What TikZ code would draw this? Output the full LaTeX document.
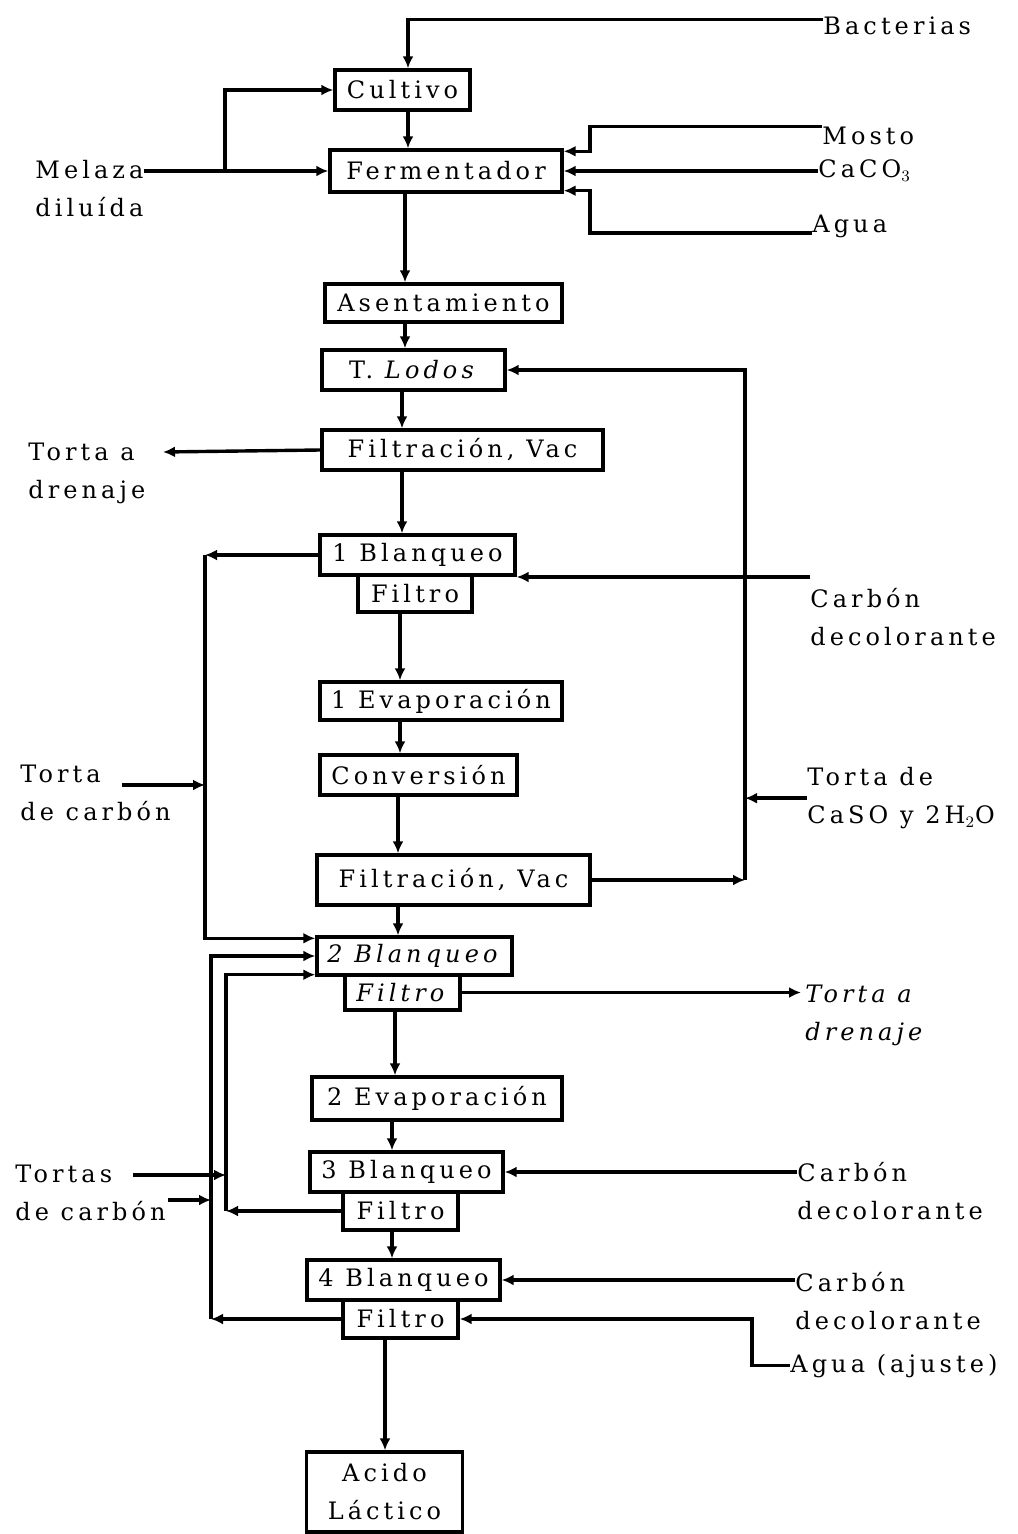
\documentclass[tikz,border=0pt]{standalone}
\usepackage{fontspec}
\setmainfont{DejaVu Serif}[LetterSpace=17]
\usetikzlibrary{arrows.meta}

\tikzset{
  proc/.style={draw, line width=1.7pt, inner sep=0pt},
  lbl/.style={inner sep=0pt, align=left, anchor=north west},
  flow/.style={line width=1.7pt, -{Latex[length=6pt,width=5.5pt]}},
}

\begin{document}
\begin{tikzpicture}[x=0.5pt,y=-0.5pt,font=\fontsize{12}{19}\selectfont]
    \useasboundingbox (0,0) rectangle (1017,1534);

    % process boxes
    \node[proc, minimum width=67.5, minimum height=20] (cult) at (402.5,90) {Cultivo};
    \node[proc, minimum width=116, minimum height=21] (ferm) at (446,171) {Fermentador};
    \node[proc, minimum width=118.5, minimum height=19] (asen) at (443.5,303) {Asentamiento};
    \node[proc, minimum width=91.5, minimum height=20] (lodos) at (413.5,370) {T. \textit{Lodos}};
    \node[proc, minimum width=140.5, minimum height=20] (filt1) at (462.5,450) {Filtración, Vac};
    \node[proc, minimum width=97.5, minimum height=20] (blq1) at (417.5,555) {1 Blanqueo};
    \node[proc, minimum width=57, minimum height=18.5] (fil1) at (415,593.5) {Filtro};
    \node[proc, minimum width=121, minimum height=19] (evap1) at (441,701) {1 Evaporación};
    \node[proc, minimum width=98.5, minimum height=20] (conv) at (418.5,775) {Conversión};
    \node[proc, minimum width=136.5, minimum height=25] (filt2) at (453.5,880) {Filtración, Vac};
    \node[proc, minimum width=97.5, minimum height=19] (blq2) at (414.5,956) {\textit{2 Blanqueo}};
    \node[proc, minimum width=57.5, minimum height=17.5] (fil2) at (402.5,992.5) {\textit{Filtro}};
    \node[proc, minimum width=125, minimum height=21.5] (evap2) at (437,1098.5) {2 Evaporación};
    \node[proc, minimum width=96.5, minimum height=20] (blq3) at (406.5,1172) {3 Blanqueo};
    \node[proc, minimum width=57.5, minimum height=19] (fil3) at (400.5,1211) {Filtro};
    \node[proc, minimum width=96.5, minimum height=20] (blq4) at (403.5,1280) {4 Blanqueo};
    \node[proc, minimum width=57.5, minimum height=19] (fil4) at (400.5,1319) {Filtro};
    \node[proc, minimum width=78, minimum height=40, align=center] (acido) at (384.5,1492) {Acido\\Láctico};

    % stream labels
    \node[lbl, anchor=base west] (bact) at (823,35) {Bacterias};
    \node[lbl, anchor=base west] (mosto) at (822,145) {Mosto};
    \node[lbl, anchor=base west] (caco) at (818,178) {CaCO$_3$};
    \node[lbl, anchor=base west] (agua) at (812,233) {Agua};
    \node[lbl] (melaza) at (35,160) {Melaza\\diluída};
    \node[lbl] (drn1) at (28,443) {Torta a\\drenaje};
    \node[lbl] (carb1) at (810,588) {Carbón\\decolorante};
    \node[lbl] (tcarb1) at (20,765) {Torta\\de carbón};
    \node[lbl] (caso) at (807,767) {Torta de\\CaSO y 2H$_2$O};
    \node[lbl, font=\fontsize{12}{19}\selectfont\itshape] (drn2) at (805,985) {Torta a\\drenaje};
    \node[lbl] (tcarb2) at (15,1165) {Tortas\\de carbón};
    \node[lbl] (carb3) at (797,1162) {Carbón\\decolorante};
    \node[lbl] (carb4) at (795,1272) {Carbón\\decolorante};
    \node[lbl, anchor=base west] (ajuste) at (790,1372) {Agua (ajuste)};

    % trunk and bend coordinates
    \coordinate (t1) at (408,0);
    \coordinate (t2) at (405,0);
    \coordinate (t3) at (402,0);
    \coordinate (t4) at (400,0);
    \coordinate (t5) at (398,0);
    \coordinate (t6) at (395,0);
    \coordinate (t7) at (392,0);
    \coordinate (t8) at (385,0);
    \coordinate (mbend) at (590,0);
    \coordinate (mbr) at (225,171);
    \coordinate (rline) at (745,0);
    \coordinate (lA) at (205,0);
    \coordinate (lB) at (211,0);
    \coordinate (lC) at (226,0);
    \coordinate (abend) at (752,0);
    \coordinate (mostoin) at ([yshift=-1.5pt]ferm.north east);
    \coordinate (aguain) at ([yshift=1.5pt]ferm.south east);
    \coordinate (d1) at (163,452);
    \coordinate (tc1) at (122,785);
    \coordinate (ts1) at (133,1175);
    \coordinate (ts2) at (168,1200);
    \coordinate (cd1) at ([yshift=5.5pt]carb1.north west);
    \coordinate (b2a) at ([yshift=-1.5pt]blq2.north west);
    \coordinate (b2c) at ([yshift=1pt]blq2.south west);

    % main line
    \draw[flow] ([yshift=3.5pt]bact.west) -| (cult.north -| t1);
    \draw[flow] (cult.south -| t1) -- (ferm.north -| t1);
    \draw[flow] (ferm.south -| t2) -- (asen.north -| t2);
    \draw[flow] (asen.south -| t2) -- (lodos.north -| t2);
    \draw[flow] (lodos.south -| t3) -- (filt1.north -| t3);
    \draw[flow] (filt1.south -| t3) -- (blq1.north -| t3);
    \draw[flow] (fil1.south -| t4) -- (evap1.north -| t4);
    \draw[flow] (evap1.south -| t4) -- (conv.north -| t4);
    \draw[flow] (conv.south -| t5) -- (filt2.north -| t5);
    \draw[flow] (filt2.south -| t5) -- (blq2.north -| t5);
    \draw[flow] (fil2.south -| t6) -- (evap2.north -| t6);
    \draw[flow] (evap2.south -| t7) -- (blq3.north -| t7);
    \draw[flow] (fil3.south -| t7) -- (blq4.north -| t7);
    \draw[flow] (fil4.south -| t8) -- (acido.north -| t8);

    % feeds to the fermenter
    \draw[flow] (melaza.north east |- ferm.west) -- (ferm.west);
    \draw[flow] (mbr) |- (cult.west);
    \draw[flow] ([yshift=5pt]mosto.west) -| (mbend |- mostoin) -- (mostoin);
    \draw[flow] (caco.west |- ferm.east) -- (ferm.east);
    \draw[flow] (agua.base west) -| (mbend |- aguain) -- (aguain);

    % sludge recycle
    \draw[flow] (filt2.east) -- (filt2.east -| rline);
    \draw[flow] (filt2.east -| rline) |- (lodos.east);
    \draw[flow] (caso.west) -- (caso.west -| rline);
    \draw[flow] (filt1.west) -- (d1);

    % carbon streams
    \draw[flow] (cd1) -- (cd1 -| blq1.east);
    \draw[flow] (blq1.west) -- (blq1.west -| lA);
    \draw[flow] (blq1.west -| lA) |- (b2a);
    \draw[flow] (tc1) -- (tc1 -| lA);
    \draw[flow] (fil4.west) -- (fil4.west -| lB);
    \draw[flow] (fil4.west -| lB) |- (blq2.west);
    \draw[flow] (fil3.west) -- (fil3.west -| lC);
    \draw[flow] (fil3.west -| lC) |- (b2c);
    \draw[flow] (ts1) -- (ts1 -| lC);
    \draw[flow] (ts2) -- (ts2 -| lB);
    \draw[flow, shorten >=2pt] (fil2.east) -- (fil2.east -| drn2.west);
    \draw[flow] (carb3.west |- blq3.east) -- (blq3.east);
    \draw[flow] (carb4.west |- blq4.east) -- (blq4.east);
    \draw[flow] (ajuste.west) -| (abend |- fil4.east) -- (fil4.east);

\end{tikzpicture}
\end{document}
